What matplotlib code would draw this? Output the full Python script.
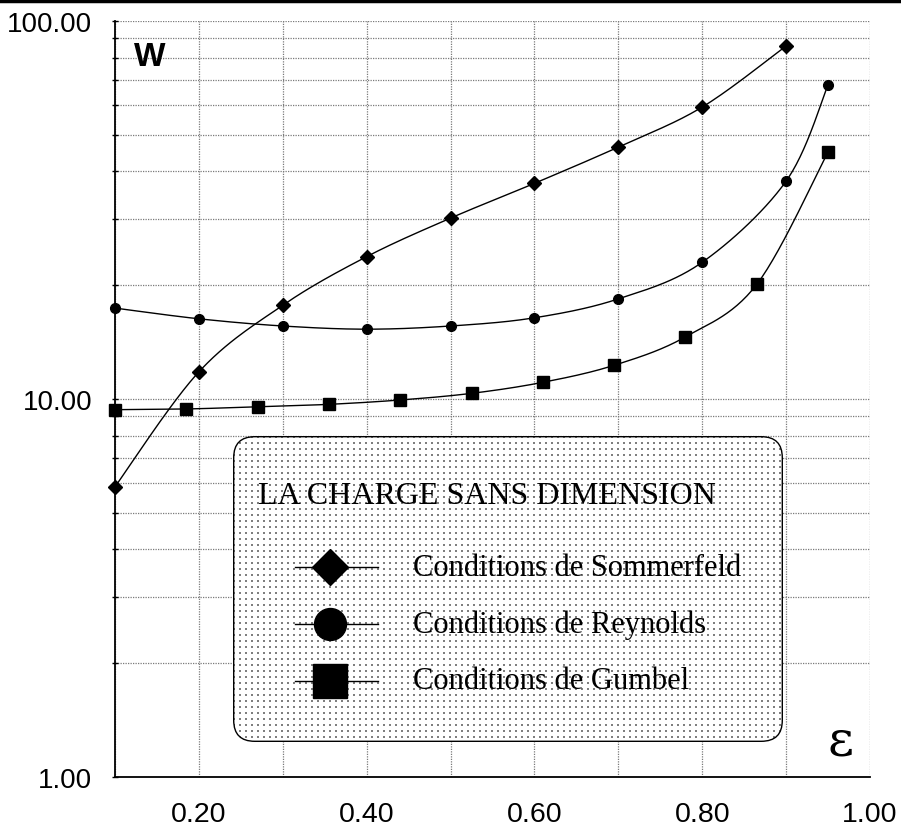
import numpy as np
import matplotlib
matplotlib.use("Agg")
import matplotlib.pyplot as plt
from matplotlib.patches import FancyBboxPatch
from matplotlib.lines import Line2D

# ---------------- data ----------------
eps_sommerfeld = [0.1, 0.2, 0.3, 0.4, 0.5, 0.6, 0.7, 0.8, 0.9]
w_sommerfeld = [5.86, 11.8, 17.7, 23.8, 30.1, 37.2, 46.4, 59.2, 85.9]

eps_reynolds = [0.1, 0.2, 0.3, 0.4, 0.5, 0.6, 0.7, 0.8, 0.9, 0.95]
w_reynolds = [17.4, 16.3, 15.6, 15.3, 15.6, 16.4, 18.4, 23.0, 37.7, 67.7]

eps_gumbel = [0.1, 0.185, 0.27, 0.355, 0.44, 0.525, 0.61, 0.695, 0.78, 0.865, 0.95]
w_gumbel = [9.37, 9.41, 9.54, 9.68, 9.94, 10.35, 11.07, 12.28, 14.6, 20.1, 45.0]

x_ticks = [0.2, 0.4, 0.6, 0.8, 1.0]
x_ticklabels = ["0.20", "0.40", "0.60", "0.80", "1.00"]
y_ticks = [1, 10, 100]
y_ticklabels = ["1.00", "10.00", "100.00"]

legend_title = "LA CHARGE SANS DIMENSION"
series_names = ["Conditions de Sommerfeld", "Conditions de Reynolds", "Conditions de Gumbel"]

XMIN, XMAX = 0.1, 1.0
YMIN, YMAX = 1.0, 100.0


def smooth(xs, ys, n=30):
    """Catmull-Rom (Excel-like) smoothing in axis-normalised space."""
    u = (np.asarray(xs) - XMIN) / (XMAX - XMIN)
    v = np.log10(np.asarray(ys)) / 2.0
    P = np.column_stack([u, v])
    out = [P[0]]
    for i in range(len(P) - 1):
        p0 = P[i - 1] if i > 0 else P[i]
        p1, p2 = P[i], P[i + 1]
        p3 = P[i + 2] if i + 2 < len(P) else P[i + 1]
        c1 = p1 + (p2 - p0) / 6.0
        c2 = p2 - (p3 - p1) / 6.0
        t = np.linspace(0, 1, n)[1:, None]
        seg = ((1 - t) ** 3) * p1 + 3 * ((1 - t) ** 2) * t * c1 + 3 * (1 - t) * t ** 2 * c2 + t ** 3 * p2
        out.extend(seg)
    out = np.array(out)
    return XMIN + out[:, 0] * (XMAX - XMIN), 10 ** (out[:, 1] * 2.0)


plt.rcParams["font.family"] = ["Liberation Sans", "DejaVu Sans"]

W, H = 901, 829
fig = plt.figure(figsize=(W / 100, H / 100), dpi=100)

# main axes: plot area x 115..870, y 22..778 (pixels from top)
L, R, T, B = 115, 870, 22, 778
ax = fig.add_axes([L / W, (H - B) / H, (R - L) / W, (B - T) / H])
ax.set_zorder(0)
ax.set_yscale("log")
ax.set_xlim(XMIN, XMAX)
ax.set_ylim(YMIN, YMAX)

grid_kw = dict(color="#7a7a7a", linestyle=(0, (1, 1)), linewidth=0.9)
ax.set_xticks(x_ticks)
ax.set_xticklabels(x_ticklabels)
ax.set_xticks(np.arange(0.1, 1.001, 0.1), minor=True)
ax.set_yticks(y_ticks)
ax.set_yticklabels(y_ticklabels)
ax.yaxis.set_minor_locator(matplotlib.ticker.LogLocator(base=10, subs=np.arange(2, 10)))
ax.yaxis.set_minor_formatter(matplotlib.ticker.NullFormatter())
ax.grid(True, which="both", axis="both", **grid_kw)
ax.set_axisbelow(True)

ax.tick_params(axis="x", which="both", length=0, labelsize=20.5, pad=17)
ax.tick_params(axis="y", which="both", direction="inout", length=5, width=1, labelsize=20, pad=14)
for s in ["top", "right"]:
    ax.spines[s].set_visible(False)
for s in ["left", "bottom"]:
    ax.spines[s].set_linewidth(1.3)

# series
xs, ys = smooth(eps_sommerfeld, w_sommerfeld)
ax.plot(xs, ys, color="black", lw=1.0, zorder=3)
ax.plot(eps_sommerfeld, w_sommerfeld, linestyle="none", marker="D", ms=7, color="black", zorder=4, clip_on=False)

xs, ys = smooth(eps_reynolds, w_reynolds)
ax.plot(xs, ys, color="black", lw=1.0, zorder=3)
ax.plot(eps_reynolds, w_reynolds, linestyle="none", marker="o", ms=7, color="black", zorder=4, clip_on=False)

xs, ys = smooth(eps_gumbel, w_gumbel)
ax.plot(xs, ys, color="black", lw=1.0, zorder=3)
ax.plot(eps_gumbel, w_gumbel, linestyle="none", marker="s", ms=8.5, color="black", zorder=4, clip_on=False)

# axis labels inside plot
fig.text(150 / W, 1 - 57 / H, "W", fontsize=24, fontweight="bold", ha="center", va="center")
fig.text(840 / W, 1 - 742 / H, "ε", fontsize=36, family=["DejaVu Serif"],
         ha="center", va="center")

# top rule
fig.add_artist(Line2D([0, 1], [1 - 1.5 / H, 1 - 1.5 / H], transform=fig.transFigure,
                      color="black", lw=2.5))

# ---------------- legend box ----------------
bx0, bx1, by0, by1 = 233, 783, 437, 743
bw, bh = bx1 - bx0, by1 - by0
lax = fig.add_axes([bx0 / W, (H - by1) / H, bw / W, bh / H])
lax.set_zorder(5)
lax.set_xlim(0, bw)
lax.set_ylim(0, bh)
lax.axis("off")

clip_box = FancyBboxPatch((0.7, 0.7), bw - 1.4, bh - 1.4, boxstyle="round,pad=0,rounding_size=21",
                          facecolor="none", edgecolor="none", transform=lax.transData)

# pixel-exact dot pattern (white background + grey dots), placed between main axes and legend axes
pat = np.ones((bh, bw, 4))
rr, cc = np.mgrid[0:bh, 0:bw]
mask = ((rr % 6) < 2) & ((cc % 6) < 2)
pat[mask, :3] = 0.5
fim = fig.figimage(pat, xo=bx0, yo=H - by1, origin="upper", zorder=2)
fim.set_clip_path(clip_box)

edge = FancyBboxPatch((0.7, 0.7), bw - 1.4, bh - 1.4, boxstyle="round,pad=0,rounding_size=21",
                      facecolor="none", edgecolor="black", lw=1.0, zorder=3)
lax.add_patch(edge)

serif = ["Liberation Serif", "DejaVu Serif"]
lax.text(254, 246, legend_title, fontsize=23, family=serif, ha="center", va="center", zorder=5)
rows = [175, 118, 61]
mk = [("D", 18), ("o", 23), ("s", 25)]
for y, name, (m, ms) in zip(rows, series_names, mk):
    lax.plot([62, 145], [y, y], color="black", lw=1.0, zorder=4)
    lax.plot([97], [y], marker=m, ms=ms, color="black", zorder=5)
    lax.text(180, y, name, fontsize=22, family=serif, ha="left", va="center", zorder=5)

fig.savefig("out.png", dpi=100)
